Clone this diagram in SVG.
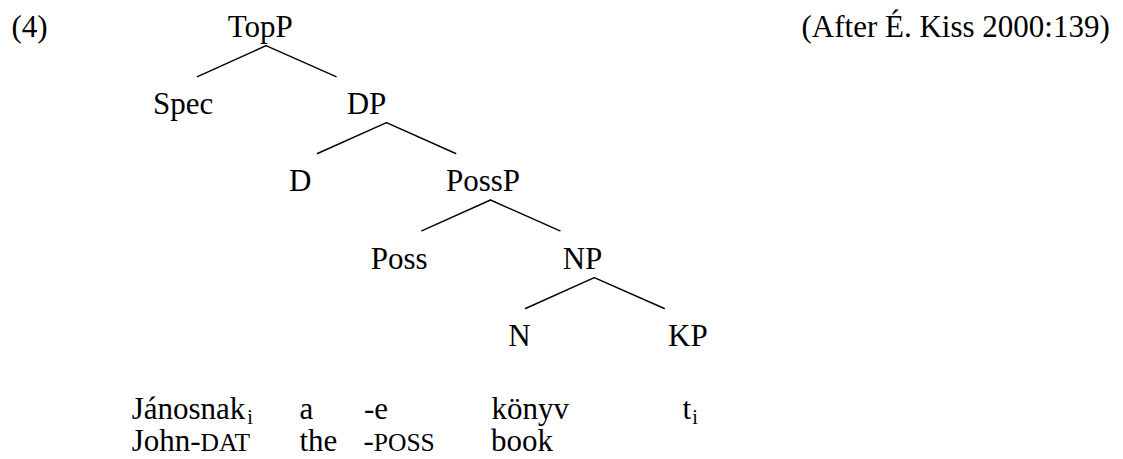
<svg xmlns="http://www.w3.org/2000/svg" width="1123" height="459" viewBox="0 0 1123 459">
<style>
text{font-family:"Liberation Serif","Times New Roman",Times,serif;font-size:31px;fill:#000}
.sc{font-size:25.5px}
.sub{font-size:20px}
.edge{stroke:#000;stroke-width:1.4;fill:none;stroke-linecap:round}
</style>
<rect width="1123" height="459" fill="#fff"/>
<text id="exnum" x="11.5" y="37">(4)</text>
<text id="source" x="801.5" y="37">(After É. Kiss 2000:139)</text>
<g id="connectors">
<line class="edge" x1="266" y1="45.7" x2="197.5" y2="76.7"/>
<line class="edge" x1="266" y1="45.7" x2="336" y2="76.7"/>
<line class="edge" x1="386.5" y1="122.7" x2="317.5" y2="153.5"/>
<line class="edge" x1="386.5" y1="122.7" x2="455.7" y2="153.5"/>
<line class="edge" x1="490.5" y1="200" x2="421.7" y2="230.8"/>
<line class="edge" x1="490.5" y1="200" x2="560" y2="230.8"/>
<line class="edge" x1="594.3" y1="277.7" x2="525.5" y2="308.5"/>
<line class="edge" x1="594.3" y1="277.7" x2="664.3" y2="308.5"/>
</g>
<g id="TopP"><text x="227.7" y="37">TopP</text></g>
<g id="Spec"><text x="153" y="113.5">Spec</text></g>
<g id="DP"><text x="346.7" y="113.5">DP</text></g>
<g id="D"><text x="289" y="191">D</text></g>
<g id="PossP"><text x="446" y="191">PossP</text></g>
<g id="Poss"><text x="370.7" y="269">Poss</text></g>
<g id="NP"><text x="562.7" y="269">NP</text></g>
<g id="N"><text x="508.3" y="346">N</text></g>
<g id="KP"><text x="668" y="346">KP</text></g>
<g id="gloss">
<text x="131.7" y="419">Jánosnak<tspan class="sub" dx="2" dy="5">i</tspan></text>
<text x="299.5" y="419">a</text>
<text x="364" y="419">-e</text>
<text x="491.5" y="419">könyv</text>
<text x="682.5" y="419">t<tspan class="sub" dx="1" dy="5">i</tspan></text>
<text x="131.7" y="451">John-<tspan class="sc">DAT</tspan></text>
<text x="299.5" y="451">the</text>
<text x="363.5" y="451">-<tspan class="sc">POSS</tspan></text>
<text x="491" y="451">book</text>
</g>
</svg>
